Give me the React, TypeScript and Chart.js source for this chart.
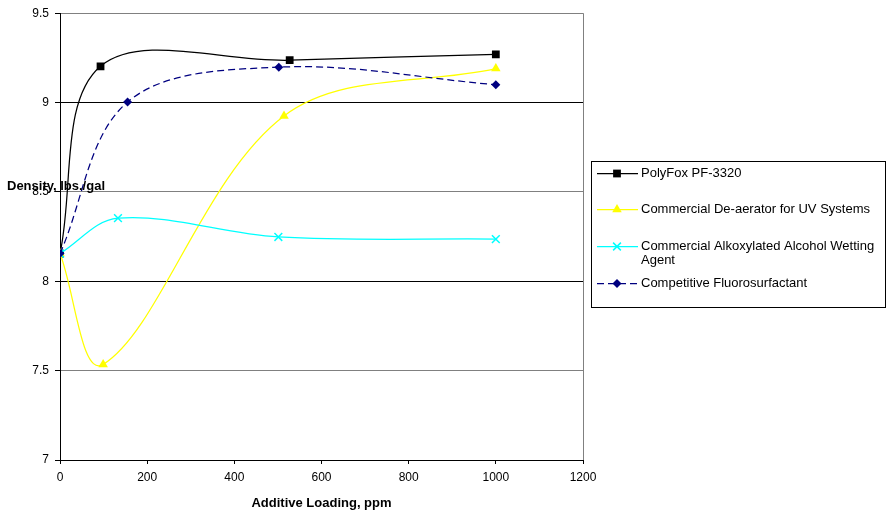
import React, { useEffect, useRef } from "react";
import { Chart, registerables } from "chart.js";

Chart.register(...registerables);

const FONT = "'Liberation Sans', Arial, sans-serif";

const seriesLabels = [
  "PolyFox PF-3320",
  "Commercial De-aerator for UV Systems",
  "Commercial Alkoxylated Alcohol Wetting Agent",
  "Competitive Fluorosurfactant",
];

const polyFoxX = [0, 93, 527, 1000];
const polyFoxY = [8.155, 9.203, 9.237, 9.27];

const deaeratorX = [0, 99, 514, 1000];
const deaeratorY = [8.155, 7.535, 8.925, 9.19];

const alkoxylatedX = [0, 133, 501, 1000];
const alkoxylatedY = [8.155, 8.353, 8.248, 8.236];

const competitiveX = [0, 155, 502, 1000];
const competitiveY = [8.155, 9.003, 9.198, 9.1];

const xTicks = [0, 200, 400, 600, 800, 1000, 1200];
const yTicks = [7, 7.5, 8, 8.5, 9, 9.5];

const xTitle = "Additive Loading, ppm";
const yTitle = "Density, lbs./gal";

const toPoints = (xs: number[], ys: number[]) => xs.map((x, i) => ({ x, y: ys[i] }));

function drawMarker(ctx: CanvasRenderingContext2D, style: string, x: number, y: number, r: number, color: string) {
  ctx.save();
  ctx.fillStyle = color;
  ctx.strokeStyle = color;
  ctx.lineWidth = 1.5;
  ctx.setLineDash([]);
  ctx.beginPath();
  if (style === "rect") {
    const s = r * Math.SQRT1_2;
    ctx.rect(x - s, y - s, 2 * s, 2 * s);
    ctx.fill();
  } else if (style === "triangle") {
    for (let k = 0; k < 3; k++) {
      const a = (k * 2 * Math.PI) / 3;
      const px = x + Math.sin(a) * r;
      const py = y - Math.cos(a) * r;
      if (k === 0) ctx.moveTo(px, py);
      else ctx.lineTo(px, py);
    }
    ctx.closePath();
    ctx.fill();
  } else if (style === "crossRot") {
    const s = r * Math.SQRT1_2;
    ctx.moveTo(x - s, y - s);
    ctx.lineTo(x + s, y + s);
    ctx.moveTo(x - s, y + s);
    ctx.lineTo(x + s, y - s);
    ctx.stroke();
  } else if (style === "rectRot") {
    ctx.moveTo(x - r, y);
    ctx.lineTo(x, y - r);
    ctx.lineTo(x + r, y);
    ctx.lineTo(x, y + r);
    ctx.closePath();
    ctx.fill();
  }
  ctx.restore();
}

const decorPlugin = {
  id: "decor",
  beforeDatasetsDraw(chart: any) {
    const { ctx, chartArea } = chart;
    ctx.save();
    ctx.strokeStyle = "#808080";
    ctx.lineWidth = 1;
    ctx.beginPath();
    const x = Math.round(chartArea.right) + 0.5;
    ctx.moveTo(x, chartArea.top);
    ctx.lineTo(x, chartArea.bottom);
    ctx.stroke();
    ctx.restore();
  },
  afterDraw(chart: any) {
    const { ctx } = chart;
    ctx.save();
    // y-axis title (horizontal, overlapping)
    ctx.fillStyle = "#000";
    ctx.font = `bold 13px ${FONT}`;
    ctx.textAlign = "left";
    ctx.textBaseline = "alphabetic";
    ctx.fillText(yTitle, 7, 190);

    // legend box
    const bx = 591, by = 161, bw = 294, bh = 146;
    ctx.fillStyle = "#fff";
    ctx.fillRect(bx, by, bw, bh);
    ctx.strokeStyle = "#000";
    ctx.lineWidth = 1;
    ctx.strokeRect(bx + 0.5, by + 0.5, bw, bh);

    ctx.font = `13px ${FONT}`;
    ctx.textBaseline = "middle";
    const rowStart = by + 11.5;
    const pitch = 36.7;
    chart.data.datasets.forEach((ds: any, i: number) => {
      const yy = Math.round(rowStart + i * pitch) + 0.5;
      ctx.save();
      ctx.strokeStyle = ds.borderColor;
      ctx.lineWidth = ds.borderWidth;
      ctx.setLineDash(ds.borderDash || []);
      ctx.beginPath();
      ctx.moveTo(597, yy);
      ctx.lineTo(638, yy);
      ctx.stroke();
      ctx.restore();
      drawMarker(ctx, ds.pointStyle, 617, yy, ds.pointRadius, ds.borderColor);
      // wrap text
      const words = String(ds.label).split(" ");
      const lines: string[] = [];
      let cur = "";
      for (const w of words) {
        const test = cur ? cur + " " + w : w;
        if (ctx.measureText(test).width > 243 && cur) {
          lines.push(cur);
          cur = w;
        } else cur = test;
      }
      if (cur) lines.push(cur);
      ctx.fillStyle = "#000";
      lines.forEach((ln, k) => ctx.fillText(ln, 641, yy + k * 14));
    });
    ctx.restore();
  },
};

export default function App() {
  const ref = useRef<HTMLCanvasElement>(null);

  useEffect(() => {
    if (!ref.current) return;
    const lw = 1.25;
    const chart = new Chart(ref.current, {
      type: "line",
      data: {
        datasets: [
          {
            label: seriesLabels[0],
            data: toPoints(polyFoxX, polyFoxY),
            borderColor: "#000000",
            backgroundColor: "#000000",
            borderWidth: lw,
            pointStyle: "rect",
            pointRadius: 5.5,
            pointBorderWidth: 0,
            tension: 0.35,
            order: 4,
          },
          {
            label: seriesLabels[1],
            data: toPoints(deaeratorX, deaeratorY),
            borderColor: "#FFFF00",
            backgroundColor: "#FFFF00",
            borderWidth: lw,
            pointStyle: "triangle",
            pointRadius: 5.5,
            pointBorderWidth: 0,
            tension: 0.35,
            order: 3,
          },
          {
            label: seriesLabels[2],
            data: toPoints(alkoxylatedX, alkoxylatedY),
            borderColor: "#00FFFF",
            backgroundColor: "#00FFFF",
            borderWidth: lw,
            pointStyle: "crossRot",
            pointRadius: 5.5,
            pointBorderWidth: 1.5,
            tension: 0.35,
            order: 2,
          },
          {
            label: seriesLabels[3],
            data: toPoints(competitiveX, competitiveY),
            borderColor: "#000080",
            backgroundColor: "#000080",
            borderWidth: lw,
            borderDash: [7, 4],
            pointStyle: "rectRot",
            pointRadius: 4.5,
            pointBorderWidth: 0,
            tension: 0.35,
            order: 1,
          },
        ],
      },
      options: {
        animation: false,
        responsive: false,
        devicePixelRatio: 1,
        layout: { padding: { top: 11, right: 306, left: 0, bottom: 0 } },
        plugins: {
          legend: { display: false },
          tooltip: { enabled: false },
          title: { display: false },
        },
        scales: {
          x: {
            type: "linear",
            min: xTicks[0],
            max: xTicks[xTicks.length - 1],
            afterFit: (s: any) => {
              s.height = 56;
            },
            afterBuildTicks: (s: any) => {
              s.ticks = xTicks.map((v) => ({ value: v }));
            },
            ticks: {
              color: "#000",
              font: { family: FONT, size: 12 },
              padding: 6,
              maxRotation: 0,
              callback: (v: any) => String(v),
            },
            grid: {
              drawOnChartArea: false,
              drawTicks: true,
              tickLength: 4,
              color: "#000",
              tickColor: "#000",
            },
            border: { display: true, color: "#000", width: 1 },
            title: {
              display: true,
              text: xTitle,
              color: "#000",
              font: { family: FONT, size: 13, weight: "bold" },
              padding: { top: 0, bottom: 5 },
            },
          },
          y: {
            type: "linear",
            min: yTicks[0],
            max: yTicks[yTicks.length - 1],
            afterFit: (s: any) => {
              s.width = 60;
            },
            afterBuildTicks: (s: any) => {
              s.ticks = yTicks.map((v) => ({ value: v }));
            },
            ticks: {
              color: "#000",
              font: { family: FONT, size: 12 },
              padding: 6,
              callback: (v: any) => String(v),
            },
            grid: {
              drawOnChartArea: true,
              drawTicks: true,
              tickLength: 5,
              color: (c: any) => {
                const v = c.tick ? c.tick.value : 0;
                return Number.isInteger(v) ? "#000000" : "#808080";
              },
              tickColor: "#000",
              lineWidth: 1,
            },
            border: { display: true, color: "#000", width: 1 },
          },
        },
      },
      plugins: [decorPlugin],
    } as any);
    return () => chart.destroy();
  }, []);

  return (
    <div style={{ position: "absolute", left: 0, top: 0, width: 889, height: 516, background: "#fff" }}>
      <canvas ref={ref} width={889} height={516} style={{ display: "block" }} />
    </div>
  );
}
